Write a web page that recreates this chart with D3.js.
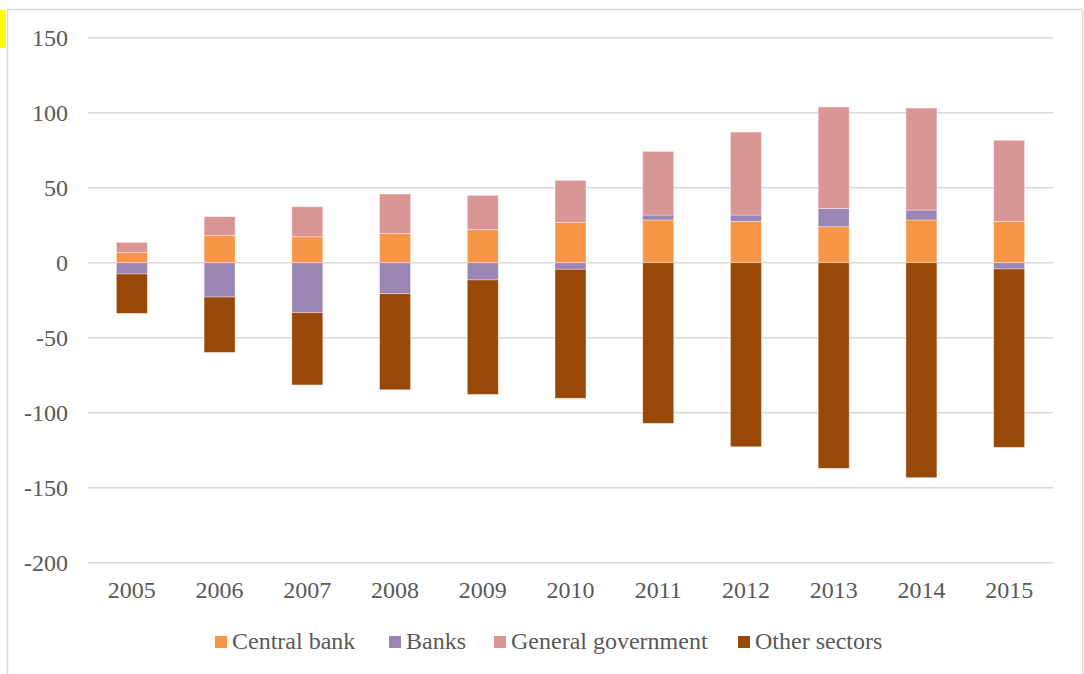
<!DOCTYPE html>
<html><head><meta charset="utf-8">
<script src="https://cdn.jsdelivr.net/npm/d3@7"></script>
<style>html,body{margin:0;padding:0;background:#fff;}svg{display:block;}
text{font-family:'Liberation Serif','Times New Roman',serif !important;}</style>
</head><body>
<script>
const years = ["2005","2006","2007","2008","2009","2010","2011","2012","2013","2014","2015"];
const centralBank = [6.7, 18, 17.3, 19.6, 22, 26.9, 28.5, 27.6, 24, 28.5, 27.6];
const banks = [-7.5, -22.9, -33.3, -20.7, -11.5, -4.4, 3.3, 4.2, 12.2, 6.6, -4.2];
const generalGovernment = [6.9, 12.7, 20, 26.2, 22.9, 28, 42.4, 55.3, 67.6, 68, 54];
const otherSectors = [-26.3, -36.9, -48.2, -64, -76.3, -86.0, -107.1, -122.7, -137.1, -143.3, -118.9];
const seriesNames = ["Central bank", "Banks", "General government", "Other sectors"];
const yTicks = [150, 100, 50, 0, -50, -100, -150, -200];

const colors = ["#F79646", "#9B85B5", "#DA9694", "#984807"];
const legendX = [215, 389, 494, 738];
const W = 1084, H = 674;
const svg = d3.select("body").append("svg").attr("width", W).attr("height", H);

// frame
svg.append("rect").attr("x", 7.5).attr("y", 9.5).attr("width", 1075).attr("height", 680)
  .attr("fill", "none").attr("stroke", "#d9d9d9").attr("stroke-width", 1.5);
svg.append("rect").attr("x", 0).attr("y", 10).attr("width", 6).attr("height", 38).attr("fill", "#FFFF00");

const table = years.map((y, i) => ({year: y, "Central bank": centralBank[i], "Banks": banks[i],
  "General government": generalGovernment[i], "Other sectors": otherSectors[i]}));
const stacked = d3.stack().keys(seriesNames).offset(d3.stackOffsetDiverging)(table);

const x = d3.scaleBand().domain(years).range([88, 1053]).paddingInner(0.647).paddingOuter(0.3235);
const y = d3.scaleLinear().domain([-200, 150]).range([562.7, 37.7]);

const font = "'Liberation Serif', 'Times New Roman', serif";
const grid = svg.append("g");
grid.selectAll("line").data(yTicks).join("line")
  .attr("x1", 88).attr("x2", 1053).attr("y1", d => y(d)).attr("y2", d => y(d))
  .attr("stroke", "#d9d9d9").attr("stroke-width", 1.5);

const yAxis = d3.axisLeft(y).tickValues(yTicks).tickSize(0).tickPadding(0).tickFormat(d => String(d));
const ya = svg.append("g").attr("transform", "translate(68,0)").call(yAxis)
  .attr("font-family", font).attr("font-size", 24);
ya.select(".domain").remove();
ya.selectAll("text").attr("fill", "#595959").attr("dy", "0.32em");

svg.append("g").selectAll("g").data(stacked).join("g")
  .attr("fill", (d, i) => colors[i])
  .selectAll("rect").data(d => d).join("rect")
  .attr("x", d => x(d.data.year))
  .attr("width", x.bandwidth())
  .attr("y", d => y(Math.max(d[0], d[1])))
  .attr("height", d => Math.abs(y(d[0]) - y(d[1])))
  .attr("stroke", "#fff").attr("stroke-opacity", 0.45).attr("stroke-width", 0.8);

const xAxis = d3.axisBottom(x).tickSize(0).tickPadding(0);
const xa = svg.append("g").attr("transform", "translate(0,598)").call(xAxis)
  .attr("font-family", font).attr("font-size", 24);
xa.select(".domain").remove();
xa.selectAll("text").attr("fill", "#595959").attr("dy", 0);

// legend
const leg = svg.append("g").attr("font-family", font).attr("font-size", 24);
seriesNames.forEach((name, i) => {
  leg.append("rect").attr("x", legendX[i]).attr("y", 636).attr("width", 12).attr("height", 12).attr("fill", colors[i]);
  leg.append("text").attr("x", legendX[i] + 17).attr("y", 649).text(name).attr("fill", "#595959");
});
</script>
</body></html>
